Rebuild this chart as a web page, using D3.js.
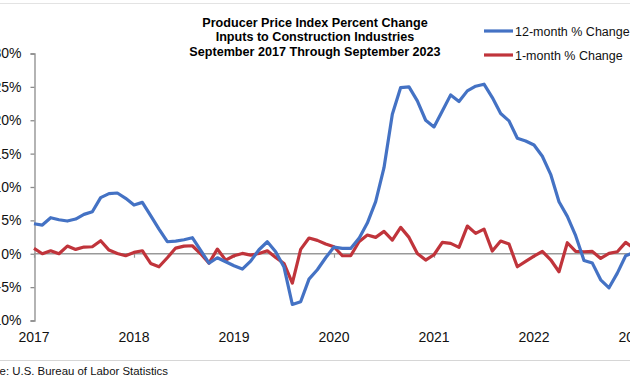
<!DOCTYPE html>
<html>
<head>
<meta charset="utf-8">
<script src="https://cdn.jsdelivr.net/npm/d3@7"></script>
<style>
  html, body { margin: 0; padding: 0; background: #fff; }
  svg { display: block; font-family: "Liberation Sans", Arial, sans-serif; }
</style>
</head>
<body>
<svg id="chart" width="630" height="380"></svg>
<script>
// Monthly data, September 2017 through September 2023 (73 months)
const startYear = 2017;
const yearLabels = ["2017", "2018", "2019", "2020", "2021", "2022", "2023"];
const yTicks = [-10, -5, 0, 5, 10, 15, 20, 25, 30];
const titleLines = [
  "Producer Price Index Percent Change",
  "Inputs to Construction Industries",
  "September 2017 Through September 2023"
];
const seriesNames = ["12-month % Change", "1-month % Change"];

const twelveMonth = [
  4.5, 4.3, 5.4, 5.1, 4.9, 5.2, 5.9, 6.3, 8.4, 9.0, 9.1, 8.3,
  7.3, 7.7, 5.7, 3.7, 1.8, 1.9, 2.1, 2.4, 0.5, -1.4, -0.6, -1.2,
  -1.8, -2.3, -1.1, 0.6, 1.8, 0.3, -2.0, -7.6, -7.2, -3.8, -2.4, -0.6,
  1.0, 0.8, 0.8, 2.3, 4.6, 7.8, 12.9, 20.9, 24.9, 25.0, 22.9, 20.0,
  19.0, 21.4, 23.8, 22.8, 24.4, 25.1, 25.4, 23.4, 21.0, 19.9, 17.3, 16.9,
  16.3, 14.6, 11.9, 7.8, 5.6, 2.7, -1.0, -1.4, -3.9, -5.1, -2.9, -0.3,
  0.2
];
const oneMonth = [
  0.8, 0.0, 0.45, 0.0, 1.15, 0.65, 1.0, 1.05, 1.95, 0.55, 0.05, -0.3,
  0.2, 0.45, -1.45, -1.95, -0.6, 0.85, 1.15, 1.2, 0.0, -1.4, 0.7, -0.95,
  -0.3, 0.05, -0.2, 0.05, 0.45, -0.55, -1.45, -4.4, 0.65, 2.35, 2.0, 1.45,
  1.05, -0.3, -0.3, 1.8, 2.8, 2.45, 3.35, 2.05, 3.95, 2.45, 0.05, -0.95,
  -0.15, 1.7, 1.55, 0.95, 4.15, 3.05, 3.7, 0.4, 1.9, 1.45, -1.95, -1.15,
  -0.35, 0.35, -0.9, -2.7, 1.65, 0.35, 0.3, 0.35, -0.7, 0.05, 0.3, 1.7,
  0.8
];

const svg = d3.select("#chart");
const W = 630, H = 380;

const x = d3.scaleLinear().domain([0, 72]).range([34, 634]);
const y = d3.scaleLinear().domain([-10, 30]).range([320.5, 53.5]);

// frame lines
svg.append("line").attr("x1", 0).attr("x2", W).attr("y1", 3.5).attr("y2", 3.5)
  .attr("stroke", "#e3e3e3").attr("stroke-width", 1);
svg.append("line").attr("x1", 0).attr("x2", W).attr("y1", 360.5).attr("y2", 360.5)
  .attr("stroke", "#d6d6d6").attr("stroke-width", 1);

// title
svg.append("g").selectAll("text").data(titleLines).join("text")
  .attr("x", 315).attr("y", (d, i) => 26.5 + i * 14.5)
  .attr("text-anchor", "middle")
  .attr("font-size", 12.6).attr("font-weight", "bold").attr("fill", "#000")
  .text(d => d);

// y axis
const yAxis = d3.axisLeft(y).tickValues(yTicks).tickSize(4).tickPadding(9)
  .tickFormat(d => d + "%");
const gy = svg.append("g").attr("transform", "translate(34.5,0)").call(yAxis);
gy.select(".domain").attr("stroke", "#8c8c8c").attr("stroke-width", 1.3);
gy.selectAll(".tick line").attr("stroke", "#8c8c8c").attr("stroke-width", 1.3);
gy.selectAll(".tick text").attr("font-size", 14).attr("fill", "#111")
  .attr("font-family", "Liberation Sans, Arial, sans-serif");

// x axis at zero
const xAxis = d3.axisBottom(x).tickValues(d3.range(0, 73, 12)).tickSize(4)
  .tickFormat(() => "");
const gx = svg.append("g").attr("transform", `translate(0,${y(0)})`).call(xAxis);
gx.select(".domain").attr("stroke", "#999").attr("stroke-width", 1.3)
  .attr("d", `M34,0H${W}`);
gx.selectAll(".tick line").attr("stroke", "#999").attr("stroke-width", 1.2);

// x labels at bottom
svg.append("g").selectAll("text").data(yearLabels).join("text")
  .attr("x", (d, i) => x(i * 12)).attr("y", 342)
  .attr("text-anchor", "middle").attr("font-size", 14).attr("fill", "#111")
  .text(d => d);

// lines
const line = d3.line().x((d, i) => x(i)).y(d => y(d)).curve(d3.curveLinear);
svg.append("path").datum(oneMonth).attr("d", line)
  .attr("fill", "none").attr("stroke", "#C0343B").attr("stroke-width", 3.2)
  .attr("stroke-linejoin", "round");
svg.append("path").datum(twelveMonth).attr("d", line)
  .attr("fill", "none").attr("stroke", "#4472C4").attr("stroke-width", 3.2)
  .attr("stroke-linejoin", "round");

// legend
const legColors = ["#4472C4", "#C0343B"];
const leg = svg.append("g");
seriesNames.forEach((name, i) => {
  const ly = 31 + i * 24;
  leg.append("line").attr("x1", 484).attr("x2", 513).attr("y1", ly).attr("y2", ly)
    .attr("stroke", legColors[i]).attr("stroke-width", 3.2);
  leg.append("text").attr("x", 515).attr("y", ly + 4.5)
    .attr("font-size", 12.5).attr("fill", "#111").text(name);
});

// source
svg.append("text").attr("x", 168).attr("y", 375).attr("text-anchor", "end")
  .attr("font-size", 11.4).attr("fill", "#111")
  .text("Source: U.S. Bureau of Labor Statistics");
</script>
</body>
</html>
